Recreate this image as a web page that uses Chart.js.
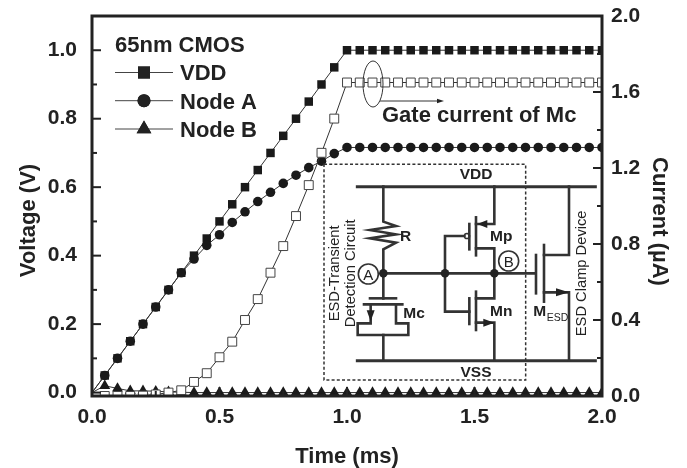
<!DOCTYPE html>
<html><head><meta charset="utf-8">
<style>html,body{margin:0;padding:0;background:#fff}#w{width:687px;height:468px}</style>
<script src="https://cdn.jsdelivr.net/npm/chart.js@4"></script>
</head><body><div id="w"><canvas id="c" width="687" height="468"></canvas></div>
<script>
const times=[0,0.05,0.1,0.15,0.2,0.25,0.3,0.35,0.4,0.45,0.5,0.55,0.6,0.65,0.7,0.75,0.8,0.85,0.9,0.95,1,1.05,1.1,1.15,1.2,1.25,1.3,1.35,1.4,1.45,1.5,1.55,1.6,1.65,1.7,1.75,1.8,1.85,1.9,1.95,2];
const vdd=[0,0.05,0.1,0.15,0.2,0.25,0.3,0.35,0.4,0.45,0.5,0.55,0.6,0.65,0.7,0.75,0.8,0.85,0.9,0.95,1,1,1,1,1,1,1,1,1,1,1,1,1,1,1,1,1,1,1,1,1];
const nodeA=[0,0.05,0.1,0.15,0.2,0.25,0.3,0.35,0.39,0.43,0.461,0.497,0.528,0.558,0.585,0.611,0.635,0.657,0.676,0.698,0.716,0.716,0.716,0.716,0.716,0.716,0.716,0.716,0.716,0.716,0.716,0.716,0.716,0.716,0.716,0.716,0.716,0.716,0.716,0.716,0.716];
const nodeB=[0,0.02,0.012,0.005,0.005,0.004,0.002,0.001,0,0,0,0,0,0,0,0,0,0,0,0,0,0,0,0,0,0,0,0,0,0,0,0,0,0,0,0,0,0,0,0,0];
const gate=[0,0,0,0,0.002,0.008,0.018,0.03,0.074,0.12,0.204,0.286,0.4,0.51,0.649,0.789,0.947,1.11,1.28,1.46,1.65,1.65,1.65,1.65,1.65,1.65,1.65,1.65,1.65,1.65,1.65,1.65,1.65,1.65,1.65,1.65,1.65,1.65,1.65,1.65,1.65];
const xTicks=[0,0.25,0.5,0.75,1,1.25,1.5,1.75,2];
const xLabels=[0,0.5,1,1.5,2];
const leftTicks=[0,0.1,0.2,0.3,0.4,0.5,0.6,0.7,0.8,0.9,1];
const leftLabels=[0,0.2,0.4,0.6,0.8,1];
const rightTicks=[0,0.2,0.4,0.6,0.8,1,1.2,1.4,1.6,1.8,2];
const rightLabels=[0,0.4,0.8,1.2,1.6,2];
const seriesNames=['VDD','Node A','Node B'];
const axisTitles=['Time (ms)','Voltage (V)','Current (µA)'];

const INK='#222';
const BOLD='"Liberation Sans", Arial, sans-serif';
const xy=a=>a.map((v,i)=>({x:times[i],y:v}));
const hideFirst=r=>c=>c.dataIndex===0?0:r;
const isIn=(list,v)=>list.some(t=>Math.abs(t-v)<1e-6);
const fix=(list)=>a=>{a.ticks=list.map(v=>({value:v}));};
const lab=list=>v=>isIn(list,v)?Number(v).toFixed(1):'';
const tickFont={family:BOLD,size:21,weight:'bold'};
const noPad=a=>{a.paddingTop=0;a.paddingBottom=0;a.paddingLeft=0;a.paddingRight=0;};

const frame={id:'frame',afterDatasetsDraw(ch){
  const g=ch.ctx,{left:l,right:r,top:t,bottom:b}=ch.chartArea;
  g.save();g.strokeStyle=INK;g.lineCap='butt';
  g.lineWidth=2;
  const tick=(x1,y1,x2,y2)=>{g.beginPath();g.moveTo(x1,y1);g.lineTo(x2,y2);g.stroke();};
  leftTicks.forEach(v=>{const y=ch.scales.y.getPixelForValue(v);tick(l,y,l+(isIn(leftLabels,v)?9:5),y);});
  rightTicks.forEach(v=>{const y=ch.scales.y1.getPixelForValue(v);tick(r,y,r-(isIn(rightLabels,v)?9:5),y);});
  xTicks.forEach(v=>{const x=ch.scales.x.getPixelForValue(v);tick(x,b,x,b-(isIn(xLabels,v)?9:5));});
  g.lineWidth=3;g.strokeRect(l,t,r-l,b-t);
  g.restore();
}};

const notes={id:'notes',afterDraw(ch){
  const g=ch.ctx;g.save();
  g.fillStyle=INK;g.strokeStyle=INK;g.textBaseline='alphabetic';
  const txt=(s,x,y,font,al)=>{g.font=font;g.textAlign=al||'left';g.fillText(s,x,y);};
  const big='bold 22px '+BOLD;
  txt(axisTitles[0],347,462.5,big,'center');
  g.save();g.translate(35,220.5);g.rotate(-Math.PI/2);txt(axisTitles[1],0,0,big,'center');g.restore();
  g.save();g.translate(653,221.5);g.rotate(Math.PI/2);txt(axisTitles[2],0,0,big,'center');g.restore();
  txt('65nm CMOS',115,52,big);
  const rows=[[72.5,80,'rect',8.5],[100.7,108.5,'circle',6.5],[129,137,'triangle',8.5]];
  rows.forEach((row,i)=>{
    g.lineWidth=1;g.strokeStyle='#444';
    g.beginPath();g.moveTo(115,row[0]);g.lineTo(173,row[0]);g.stroke();
    g.strokeStyle=INK;
    Chart.helpers.drawPoint(g,{pointStyle:row[2],radius:row[3],rotation:0},144,row[0]);
    g.fill();
    txt(seriesNames[i],180,row[1],big);
  });
  txt('Gate current of Mc',382,122,big);
  g.lineWidth=1;g.strokeStyle='#333';
  g.beginPath();g.ellipse(373,84,10,23,0,0,Math.PI*2);g.stroke();
  arrowLine(g,380,101,444,101,7,2.2,1);

  // inset circuit schematic
  const X=v=>320+v/3, Y=v=>150+v/3;
  const L=(pts,w)=>{g.lineWidth=w||2.6;g.lineCap='square';g.lineJoin='miter';g.beginPath();pts.forEach((p,i)=>{const a=X(p[0]),b=Y(p[1]);i?g.lineTo(a,b):g.moveTo(a,b);});g.stroke();};
  const dot=(a,b)=>{g.beginPath();g.arc(X(a),Y(b),4.3,0,Math.PI*2);g.fill();};
  const head=(a,b,dx,dy,s)=>{const w=4;const x=X(a),y=Y(b);g.beginPath();g.moveTo(x,y);g.lineTo(x-dx*s-dy*w,y-dy*s-dx*w);g.lineTo(x-dx*s+dy*w,y-dy*s+dx*w);g.closePath();g.fill();};
  g.save();g.setLineDash([3,2.2]);g.lineWidth=1.5;g.strokeRect(X(12),Y(43),(617-12)/3,(690-43)/3);g.restore();
  L([[112,110],[826,110]],3);L([[112,632],[826,632]],3);
  L([[190,110],[190,215],[228,228],[150,240],[228,253],[150,265],[228,278],[190,298],[190,445]]);
  L([[190,370],[645,370]]);
  L([[150,445],[228,445]]);L([[132,463],[247,463]]);
  L([[152,463],[152,520],[113,520],[113,555],[265,555],[265,520],[228,520],[228,463]]);
  L([[190,555],[190,632]]);
  head(152,514,0,1,11);
  L([[433,258],[375,258],[375,485],[448,485]]);
  g.lineWidth=1.5;g.beginPath();g.arc(X(441),Y(258),2.6,0,Math.PI*2);g.stroke();
  L([[448,222],[448,298]]);L([[468,202],[468,316]]);
  L([[523,110],[523,222],[468,222]]);head(472,222,-1,0,10);
  L([[468,295],[523,295],[523,445],[468,445]]);
  L([[448,445],[448,522]]);L([[468,425],[468,540]]);
  L([[468,518],[523,518],[523,632]]);head(523,518,1,0,11);
  L([[648,315],[648,430]]);L([[672,285],[672,455]]);
  L([[747,110],[747,315],[672,315]]);L([[672,427],[747,427],[747,632]]);head(747,427,1,0,13);
  dot(190,370);dot(375,370);dot(523,370);
  const circ=(a,b,s)=>{g.lineWidth=1.6;g.beginPath();g.arc(X(a),Y(b),10,0,Math.PI*2);g.stroke();g.font='15px '+BOLD;g.textAlign='center';g.fillText(s,X(a),Y(b)+5.5);};
  circ(145,372,'A');circ(566,333,'B');
  const cf='bold 15.5px '+BOLD;
  txt('VDD',X(468),Y(86),cf,'center');
  txt('VSS',X(468),Y(682),cf,'center');
  txt('R',X(240),Y(273),cf);
  txt('Mp',X(510),Y(273),cf);
  txt('Mn',X(510),Y(497),cf);
  txt('Mc',X(250),Y(505),cf);
  txt('M',X(640),Y(497),cf);
  txt('ESD',X(680),Y(512),'10.5px '+BOLD);
  const rot=(s,a,b)=>{g.save();g.translate(X(a),Y(b));g.rotate(-Math.PI/2);g.font='14.7px '+BOLD;g.textAlign='center';g.fillText(s,0,0);g.restore();};
  rot('ESD-Transient',56,370);
  rot('Detection Circuit',105,370);
  rot('ESD Clamp Device',797,370);
  g.restore();
}};
function arrowLine(g,x1,y,x2,_y,s,w,lw){g.lineWidth=lw;g.beginPath();g.moveTo(x1,y);g.lineTo(x2-s+1,y);g.stroke();g.beginPath();g.moveTo(x2,y);g.lineTo(x2-s,y-w);g.lineTo(x2-s,y+w);g.closePath();g.fillStyle=INK;g.fill();}

new Chart(document.getElementById('c'),{
  type:'line',
  data:{datasets:[
    {label:'Gate current of Mc',data:xy(gate),yAxisID:'y1',order:0,borderColor:'#333',borderWidth:1,tension:0,pointStyle:'rect',pointRadius:hideFirst(6.3),pointBackgroundColor:'#fff',pointBorderColor:'#444',pointBorderWidth:1},
    {label:'Node A',data:xy(nodeA),yAxisID:'y',order:1,borderColor:'#333',borderWidth:1,tension:0,pointStyle:'circle',pointRadius:hideFirst(4.8),pointBackgroundColor:'#1a1a1a',pointBorderColor:'#1a1a1a',pointBorderWidth:0},
    {label:'VDD',data:xy(vdd),yAxisID:'y',order:2,borderColor:'#333',borderWidth:1,tension:0,pointStyle:'rect',pointRadius:hideFirst(6),pointBackgroundColor:'#1a1a1a',pointBorderColor:'#1a1a1a',pointBorderWidth:0},
    {label:'Node B',data:xy(nodeB),yAxisID:'y',order:3,borderColor:'#333',borderWidth:1,tension:0,pointStyle:'triangle',pointRadius:hideFirst(6.3),pointBackgroundColor:'#1a1a1a',pointBorderColor:'#1a1a1a',pointBorderWidth:0}
  ]},
  options:{
    responsive:false,animation:false,devicePixelRatio:1,
    layout:{padding:{top:16,left:0,right:0,bottom:0}},
    plugins:{legend:{display:false},tooltip:{enabled:false},title:{display:false}},
    scales:{
      x:{type:'linear',min:0,max:2,afterBuildTicks:fix(xLabels),afterFit:a=>{a.height=72;noPad(a);},
        grid:{display:false},border:{display:false},
        ticks:{font:tickFont,color:INK,maxRotation:0,autoSkip:false,padding:1,callback:lab(xLabels)}},
      y:{type:'linear',position:'left',min:-0.01,max:1.1,afterBuildTicks:fix(leftTicks),afterFit:a=>{a.width=92;noPad(a);},
        grid:{display:false},border:{display:false},
        ticks:{font:tickFont,color:INK,autoSkip:false,padding:7,callback:lab(leftLabels)}},
      y1:{type:'linear',position:'right',min:0,max:2,afterBuildTicks:fix(rightTicks),afterFit:a=>{a.width=85;noPad(a);},
        grid:{display:false},border:{display:false},
        ticks:{font:tickFont,color:INK,autoSkip:false,padding:1,callback:lab(rightLabels)}}
    }
  },
  plugins:[frame,notes]
});
</script></body></html>
